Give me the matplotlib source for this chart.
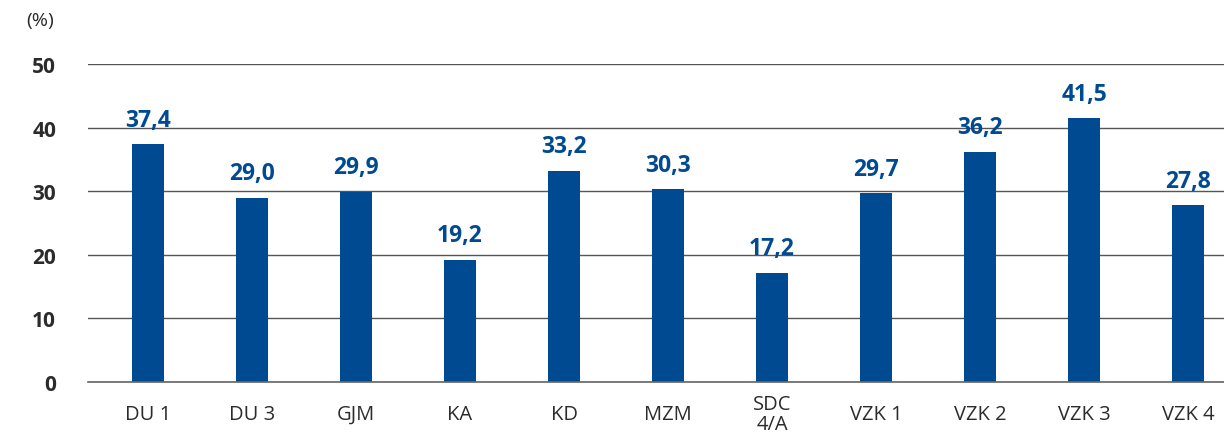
import matplotlib.pyplot as plt

plt.rcParams['font.family'] = ['Open Sans', 'DejaVu Sans']

categories = ['DU 1', 'DU 3', 'GJM', 'KA', 'KD', 'MZM', 'SDC\n4/A',
              'VZK 1', 'VZK 2', 'VZK 3', 'VZK 4']
values = [37.4, 29.0, 29.9, 19.2, 33.2, 30.3, 17.2, 29.7, 36.2, 41.5, 27.8]
yticks = [0, 10, 20, 30, 40, 50]

bar_color = '#004A92'
text_color = '#2b2b2b'

fig = plt.figure(figsize=(12.24, 4.35), dpi=100)
ax = fig.add_axes([0.0719, 0.1195, 0.9281, 0.7311])

x = range(len(categories))
ax.bar(x, values, width=0.3, color=bar_color, zorder=3)

for xi, v in zip(x, values):
    ax.annotate(f'{v:.1f}'.replace('.', ','), (xi, v), xytext=(0, 9),
                textcoords='offset points', ha='center', va='bottom',
                fontsize=16.5, fontweight='bold', color=bar_color)

ax.set_ylim(0, 50)
ax.set_xlim(-0.577, 10.346)
ax.set_yticks(yticks)
ax.set_yticklabels([str(t) for t in yticks], fontsize=15, fontweight='bold',
                   color=text_color)
ax.yaxis.grid(True, color='#555555', linewidth=1, zorder=0)
ax.axhline(0, color='#666666', linewidth=1.2, zorder=4, clip_on=False)
ax.set_xticks(list(x))
ax.set_xticklabels(categories, fontsize=14.5, color=text_color,
                   linespacing=1.0)
for lbl in ax.get_xticklabels():
    lbl.set_va('center')
ax.tick_params(axis='x', length=0, pad=23)
ax.tick_params(axis='y', length=0, pad=23)
for s in ax.spines.values():
    s.set_visible(False)

fig.text(40 / 1224, 1 - 21 / 435, '(%)', fontsize=14, color=text_color,
         ha='center', va='center')

fig.savefig('out.png', dpi=100)
plt.close(fig)
